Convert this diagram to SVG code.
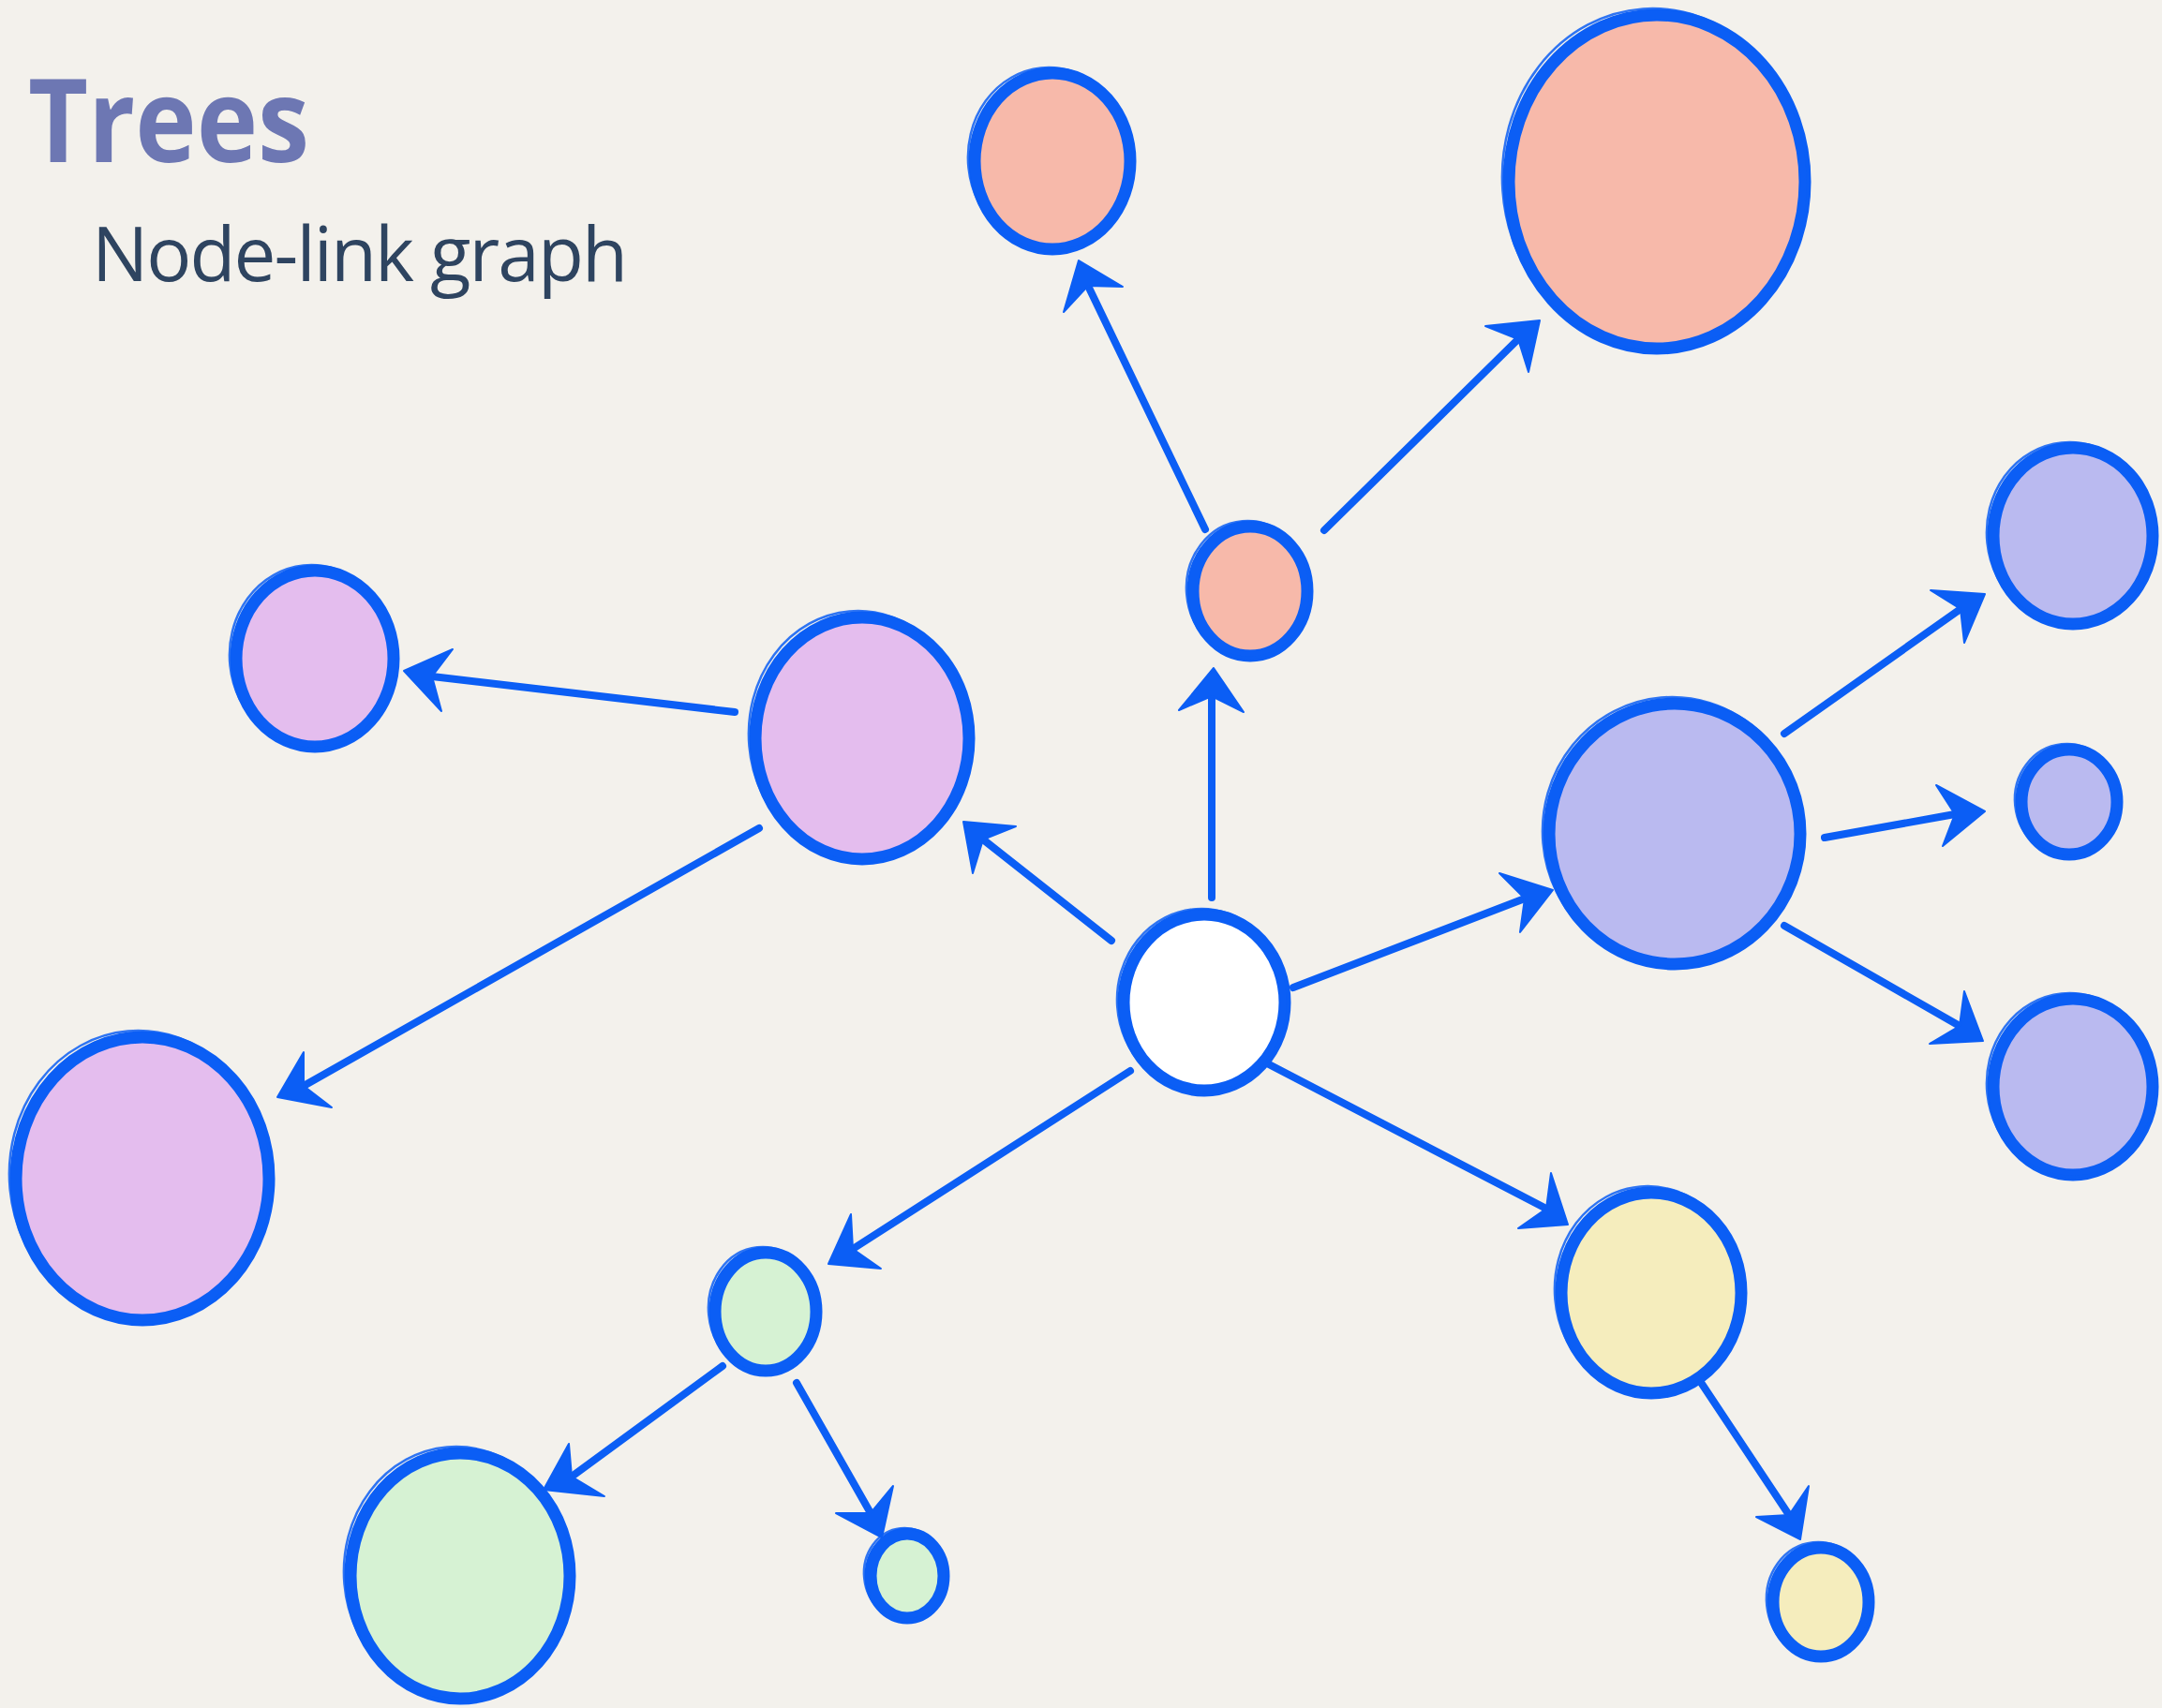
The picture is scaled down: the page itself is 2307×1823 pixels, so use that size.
<svg xmlns="http://www.w3.org/2000/svg" width="2307" height="1823" viewBox="0 0 2307 1823">
<style>
.bg{fill:#f3f1ec}
.title{font-family:"Open Sans","Liberation Sans",sans-serif;font-weight:700;font-size:124px;fill:#6d77b3}
.sub{font-family:"Open Sans","Liberation Sans",sans-serif;font-weight:400;font-size:80px;fill:#2e4460}
.ring{stroke:#0b5ef5;stroke-width:13}
.ring2{fill:none;stroke:#0b5ef5;stroke-width:2.5;opacity:0.85}
.salmon{fill:#f7b9aa}.pink{fill:#e4bdee}.purple{fill:#babaf0}.white{fill:#ffffff}.green{fill:#d6f2d3}.yellow{fill:#f5edbd}
.edge line{stroke:#0b5ef5;stroke-width:8;stroke-linecap:round}
.edge polygon{fill:#0b5ef5;stroke:#0b5ef5;stroke-width:2;stroke-linejoin:round}
</style>
<rect class="bg" x="0" y="0" width="2307" height="1823"/>
<text class="title" x="30" y="173" textLength="300" lengthAdjust="spacingAndGlyphs">Trees</text>
<text class="sub" x="98" y="300" textLength="572" lengthAdjust="spacing">Node-link graph</text>

<g id="connectors">
  <g class="edge" id="e-center-salmonS"><line x1="1293" y1="958" x2="1293" y2="743"/><polygon points="1295,713 1327,760 1293,743 1258,758"/></g>
  <g class="edge" id="e-salmonS-salmonTL"><line x1="1286" y1="565" x2="1161" y2="305"/><polygon points="1151,278 1198,306 1161,305 1135,333"/></g>
  <g class="edge" id="e-salmonS-salmonBig"><line x1="1413" y1="566" x2="1620" y2="362"/><polygon points="1643,342 1631,397 1620,362 1585,348"/></g>
  <g class="edge" id="e-center-pinkMid"><line x1="1186" y1="1004" x2="1049" y2="896"/><polygon points="1028,877 1084,882 1049,896 1038,932"/></g>
  <g class="edge" id="e-pinkMid-pinkS"><line x1="784" y1="760" x2="461" y2="722"/><polygon points="431,716 483,693 461,722 471,759"/></g>
  <g class="edge" id="e-pinkMid-pinkBig"><line x1="810" y1="884" x2="324" y2="1159"/><polygon points="296,1171 324,1123 324,1159 354,1182"/></g>
  <g class="edge" id="e-center-greenS"><line x1="1206" y1="1143" x2="910" y2="1333"/><polygon points="884,1349 908,1296 910,1333 940,1354"/></g>
  <g class="edge" id="e-greenS-greenBig"><line x1="771" y1="1458" x2="610" y2="1576"/><polygon points="580,1590 607,1541 610,1576 645,1597"/></g>
  <g class="edge" id="e-greenS-greenT"><line x1="850" y1="1476" x2="929" y2="1615"/><polygon points="941,1641 892,1615 929,1615 953,1586"/></g>
  <g class="edge" id="e-center-yellow"><line x1="1354" y1="1136" x2="1650" y2="1290"/><polygon points="1673,1307 1620,1311 1650,1290 1655,1252"/></g>
  <g class="edge" id="e-yellow-yellowS"><line x1="1816" y1="1477" x2="1909" y2="1617"/><polygon points="1921,1643 1874,1619 1909,1617 1930,1586"/></g>
  <g class="edge" id="e-center-purpleBig"><line x1="1380" y1="1054" x2="1627" y2="959"/><polygon points="1657,950 1622,995 1627,959 1600,932"/></g>
  <g class="edge" id="e-purpleBig-purpleTR"><line x1="1904" y1="783" x2="2092" y2="650"/><polygon points="2118,634 2096,686 2092,650 2060,630"/></g>
  <g class="edge" id="e-purpleBig-purpleS"><line x1="1947" y1="894" x2="2086" y2="869"/><polygon points="2118,866 2073,903 2086,869 2066,838"/></g>
  <g class="edge" id="e-purpleBig-purpleBR"><line x1="1904" y1="988" x2="2091" y2="1095"/><polygon points="2116,1111 2059,1114 2091,1095 2096,1058"/></g>
</g>

<g id="n-center"><ellipse class="ring white" cx="1285" cy="1070" rx="86" ry="94"/><ellipse class="ring2" cx="1283" cy="1068" rx="91" ry="98" transform="rotate(-4 1283 1068)"/></g>
<g id="n-salmonS"><ellipse class="ring salmon" cx="1334" cy="631" rx="61" ry="69"/><ellipse class="ring2" cx="1332" cy="629" rx="66" ry="73" transform="rotate(-5 1332 629)"/></g>
<g id="n-salmonTL"><ellipse class="ring salmon" cx="1123" cy="172" rx="83" ry="94"/><ellipse class="ring2" cx="1121" cy="170" rx="88" ry="98" transform="rotate(-6 1121 170)"/></g>
<g id="n-salmonBig"><ellipse class="ring salmon" cx="1768" cy="194" rx="158" ry="178"/><ellipse class="ring2" cx="1766" cy="192" rx="163" ry="183" transform="rotate(-4 1766 192)"/></g>
<g id="n-pinkS"><ellipse class="ring pink" cx="336" cy="703" rx="84" ry="94"/><ellipse class="ring2" cx="334" cy="701" rx="89" ry="98" transform="rotate(-6 334 701)"/></g>
<g id="n-pinkMid"><ellipse class="ring pink" cx="920" cy="788" rx="114" ry="129"/><ellipse class="ring2" cx="918" cy="786" rx="119" ry="134" transform="rotate(-5 918 786)"/></g>
<g id="n-pinkBig"><ellipse class="ring pink" cx="152" cy="1258" rx="135" ry="151"/><ellipse class="ring2" cx="150" cy="1256" rx="140" ry="156" transform="rotate(-5 150 1256)"/></g>
<g id="n-purpleBig"><ellipse class="ring purple" cx="1787" cy="890" rx="134" ry="139"/><ellipse class="ring2" cx="1785" cy="888" rx="139" ry="144" transform="rotate(-5 1785 888)"/></g>
<g id="n-purpleTR"><ellipse class="ring purple" cx="2212" cy="572" rx="85" ry="94"/><ellipse class="ring2" cx="2210" cy="570" rx="90" ry="98" transform="rotate(-6 2210 570)"/></g>
<g id="n-purpleS"><ellipse class="ring purple" cx="2208" cy="856" rx="51" ry="56"/><ellipse class="ring2" cx="2206" cy="854" rx="56" ry="60" transform="rotate(-6 2206 854)"/></g>
<g id="n-purpleBR"><ellipse class="ring purple" cx="2212" cy="1160" rx="85" ry="94"/><ellipse class="ring2" cx="2210" cy="1158" rx="90" ry="98" transform="rotate(-6 2210 1158)"/></g>
<g id="n-yellow"><ellipse class="ring yellow" cx="1762" cy="1380" rx="96" ry="107"/><ellipse class="ring2" cx="1760" cy="1378" rx="101" ry="112" transform="rotate(-5 1760 1378)"/></g>
<g id="n-yellowS"><ellipse class="ring yellow" cx="1943" cy="1710" rx="51" ry="58"/><ellipse class="ring2" cx="1941" cy="1708" rx="56" ry="62" transform="rotate(-6 1941 1708)"/></g>
<g id="n-greenS"><ellipse class="ring green" cx="817" cy="1400" rx="54" ry="63"/><ellipse class="ring2" cx="815" cy="1398" rx="59" ry="67" transform="rotate(-6 815 1398)"/></g>
<g id="n-greenBig"><ellipse class="ring green" cx="491" cy="1682" rx="117" ry="131"/><ellipse class="ring2" cx="489" cy="1680" rx="122" ry="136" transform="rotate(-5 489 1680)"/></g>
<g id="n-greenT"><ellipse class="ring green" cx="968" cy="1682" rx="39" ry="45"/><ellipse class="ring2" cx="966" cy="1680" rx="44" ry="49" transform="rotate(-6 966 1680)"/></g>
</svg>
